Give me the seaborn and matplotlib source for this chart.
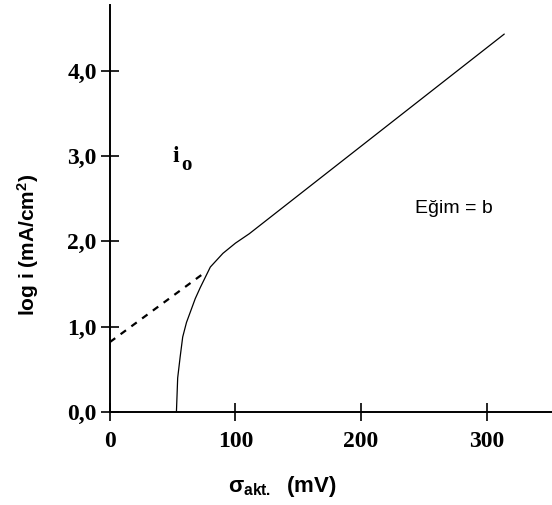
import seaborn as sns
import matplotlib.pyplot as plt
import pandas as pd

# egri (akim - asiri gerilim) verileri
sigma_egri = [53, 54, 56, 58, 61, 64, 68, 72, 80, 90, 100, 111, 314]
logi_egri = [0.0, 0.4, 0.65, 0.88, 1.05, 1.17, 1.33, 1.46, 1.70, 1.86, 1.98, 2.09, 4.43]

# Tafel dogrusunun ekstrapolasyonu (kesikli)
sigma_kesik = [0, 76]
logi_kesik = [0.82, 1.64]

x_ticks = [0, 100, 200, 300]
y_ticks = [0, 1, 2, 3, 4]
y_tick_labels = ["0,0", "1,0", "2,0", "3,0", "4,0"]

sns.set_theme(style="white")
plt.rcParams["font.family"] = ["Liberation Serif", "DejaVu Serif"]
plt.rcParams["mathtext.fontset"] = "custom"
plt.rcParams["mathtext.bf"] = "Liberation Sans:bold"
plt.rcParams["mathtext.rm"] = "Liberation Sans:bold"
plt.rcParams["mathtext.it"] = "Liberation Sans:bold"

df_egri = pd.DataFrame({"sigma": sigma_egri, "logi": logi_egri})
df_kesik = pd.DataFrame({"sigma": sigma_kesik, "logi": logi_kesik})

fig = plt.figure(figsize=(5.52, 5.05), dpi=100)
ax = fig.add_axes([0.199, 0.184, 0.801, 0.806])

sns.lineplot(data=df_egri, x="sigma", y="logi", ax=ax, color="black",
             linewidth=0.9, sort=False, estimator=None)
sns.lineplot(data=df_kesik, x="sigma", y="logi", ax=ax, color="black",
             linewidth=1.6, linestyle=(0, (3, 3)), estimator=None)

ax.set_xlim(0, 352)
ax.set_ylim(0, 4.77)
sns.despine(ax=ax)
for s in ["left", "bottom"]:
    ax.spines[s].set_linewidth(1.4)
    ax.spines[s].set_color("black")

ax.set_xticks(x_ticks)
ax.set_xticklabels([str(t) for t in x_ticks])
ax.set_yticks(y_ticks)
ax.set_yticklabels(y_tick_labels)
ax.tick_params(direction="inout", length=13, width=1.2, colors="black",
               labelsize=17, pad=3, left=True, bottom=True)
ax.tick_params(axis="x", pad=7)
for lab in ax.get_xticklabels() + ax.get_yticklabels():
    lab.set_fontweight("bold")

ax.set_ylabel("log i (mA/cm$^{2}$)", family="Liberation Sans", fontweight="bold",
              fontsize=15, color="black")
ax.yaxis.set_label_coords(-0.155, 0.41)
ax.set_xlabel(r"$\mathrm{σ}_{\mathrm{akt.}}$  (mV)", family="Liberation Sans",
              fontweight="bold", fontsize=16, color="black")
ax.xaxis.set_label_coords(0.39, -0.152)

ax.text(50, 2.93, "i", fontsize=17, fontweight="bold", color="black")
ax.text(57, 2.84, "o", fontsize=15, fontweight="bold", color="black")
ax.text(243, 2.39, "Eğim = b", family="Liberation Sans", fontsize=14,
        color="black", va="center")

fig.savefig("out.png", dpi=100)
